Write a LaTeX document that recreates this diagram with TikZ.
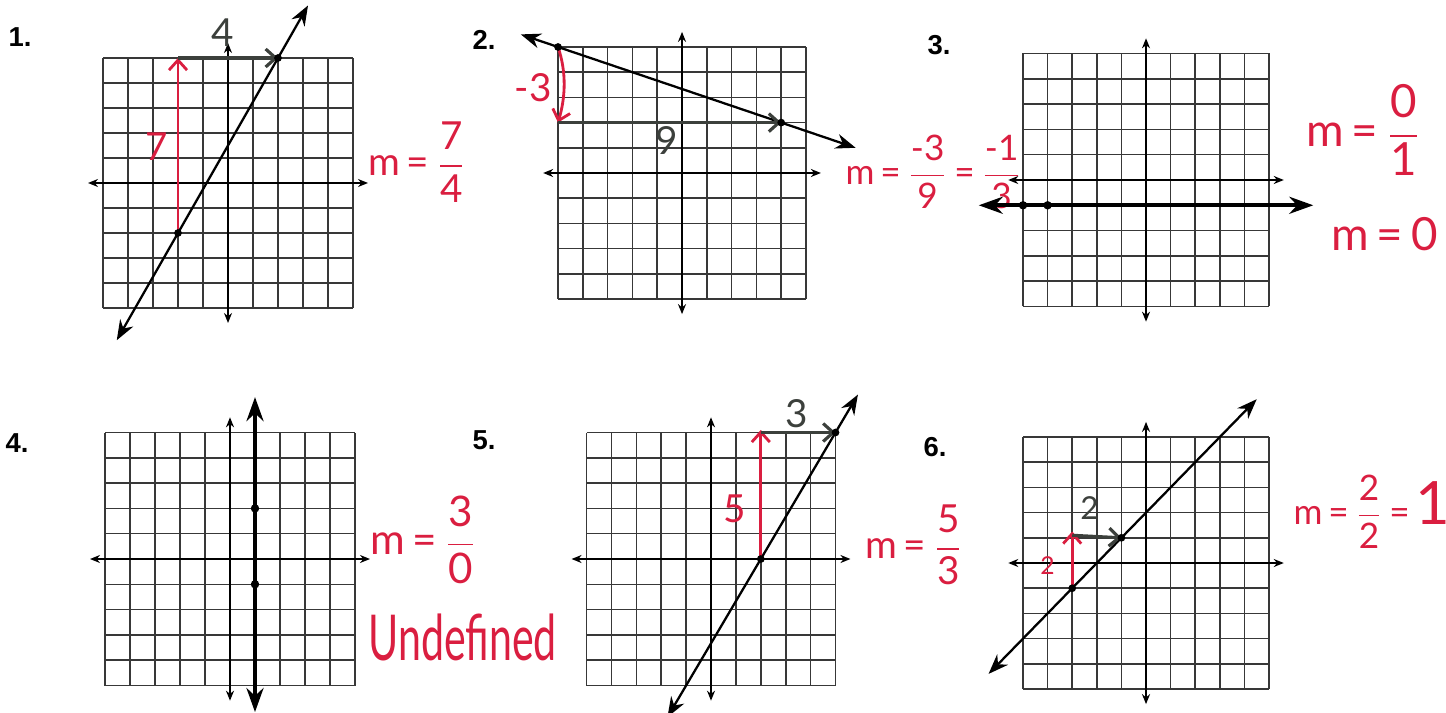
\documentclass[tikz,border=0pt]{standalone}
\usepackage{amsmath}
\usepackage{fontspec}
\setmainfont{Liberation Sans}
\newfontfamily\handfont{Lato}
\usetikzlibrary{arrows.meta}

\providecommand{\AxisLen}{5.6}
\definecolor{handred}{RGB}{218,30,64}
\definecolor{ink}{RGB}{60,64,60}

% 10 x 10 grid with both axes, in cell units
\newcommand{\SlopeGrid}{%
  \foreach \k in {-5,...,5}
  {
    \draw[gridline] (\k,-5) -- (\k,5);
    \draw[gridline] (-5,\k) -- (5,\k);
  }
  \draw[axis] (-\AxisLen,0) -- (\AxisLen,0);
  \draw[axis] (0,-\AxisLen) -- (0,\AxisLen);
}

\begin{document}
\begin{tikzpicture}[x=0.1mm, y=-0.1mm,
  gridline/.style={line width=0.45pt, black!78},
  axis/.style={line width=0.7pt, {Stealth[length=1mm,width=0.8mm]}-{Stealth[length=1mm,width=0.8mm]}},
  graphline/.style={line width=0.65pt, {Stealth[length=2mm,width=1.5mm]}-{Stealth[length=2mm,width=1.5mm]}},
  boldline/.style={line width=1.1pt, {Stealth[length=2.4mm,width=1.7mm]}-{Stealth[length=2.4mm,width=1.7mm]}},
  rise/.style={draw=handred, line width=0.8pt, -{Straight Barb[length=1mm,width=1.8mm]}},
  run/.style={draw=ink, line width=0.9pt, -{Straight Barb[length=1mm,width=1.8mm]}},
  hand/.style={inner sep=0pt, text=handred, font=\handfont\fontsize{11}{13}\selectfont},
  inkhand/.style={inner sep=0pt, text=ink, font=\handfont\fontsize{11}{13}\selectfont},
  qnum/.style={anchor=west, inner sep=0pt, font=\bfseries\fontsize{7.8}{9}\selectfont}]

\useasboundingbox (0,0) rectangle (1446,713);

% Question numbers
\foreach \n/\x/\y in {1/8/37, 2/472/40, 3/927/45, 4/5/443, 5/472/440, 6/923/447}
  \node[qnum] (q\n) at (\x,\y) {\n.};

% Graph 1: m = 7/4
\begin{scope}[shift={(228,183)}, x=2.5mm, y=2.5mm]
  \SlopeGrid
  \coordinate (g1lo) at (-4.45,-6.29);
  \coordinate (g1hi) at (3.2,7.1);
  \coordinate (g1a) at (-2,-2);
  \coordinate (g1t) at (-2,5);
  \coordinate (g1b) at (2,5);
  \draw[graphline] (g1lo) -- (g1hi);
  \draw[rise] (g1a) -- (g1t);
  \draw[run] (g1t) -- (g1b);
  \fill (g1a) circle (1.1pt) (g1b) circle (1.1pt);
  \node[inkhand] (g1run) at (-0.2,6.0) {4};
  \node[hand] (g1rise) at (-2.85,1.45) {7};
\end{scope}
\node[hand, anchor=west] (m1) at (368,162) {m\,=\,$\dfrac{\mbox{7}}{\mbox{4}}$};

% Graph 2: m = -3/9
\begin{scope}[shift={(682,173)}, x=2.48mm, y=2.52mm]
  \SlopeGrid
  \coordinate (g2lo) at (-6.5,5.5);
  \coordinate (g2hi) at (7,1);
  \coordinate (g2a) at (-5,5);
  \coordinate (g2t) at (-5,2);
  \coordinate (g2b) at (4,2);
  \draw[graphline] (g2lo) -- (g2hi);
  \draw[rise] (g2a) .. controls (-4.65,4) and (-4.7,3) .. (g2t);
  \draw[run] (g2t) -- (g2b);
  \fill (g2a) circle (1.1pt) (g2b) circle (1.1pt);
  \node[hand] (g2rise) at (-6.0,3.4) {-3};
  \node[inkhand] (g2run) at (-0.6,1.3) {9};
\end{scope}
\node[hand, anchor=west, font=\handfont\fontsize{10}{12}\selectfont] (m2) at (845,172)
  {m\,=\,$\dfrac{\mbox{-3}}{\mbox{9}}$\,=\,$\dfrac{\mbox{-1}}{\mbox{3}}$};

% Graph 3: horizontal line
\begin{scope}[shift={(1146,180)}, x=2.46mm, y=2.53mm]
  \SlopeGrid
  \coordinate (g3lo) at (-6.8,-1);
  \coordinate (g3hi) at (6.8,-1);
  \coordinate (g3a) at (-5,-1);
  \coordinate (g3b) at (-4,-1);
  \draw[boldline] (g3lo) -- (g3hi);
  \fill (g3a) circle (1.2pt) (g3b) circle (1.2pt);
\end{scope}
\node[hand, anchor=west, font=\handfont\fontsize{13}{15}\selectfont] (m3) at (1306,130)
  {m\,=\,$\dfrac{\mbox{0}}{\mbox{1}}$};
\node[hand, anchor=west, font=\handfont\fontsize{13}{15}\selectfont] (m3b) at (1331,234) {m\,=\,0};

% Graph 4: vertical line
\begin{scope}[shift={(230,559)}, x=2.5mm, y=2.53mm]
  \SlopeGrid
  \coordinate (g4lo) at (1,-6.05);
  \coordinate (g4hi) at (1,6.4);
  \coordinate (g4a) at (1,2);
  \coordinate (g4b) at (1,-1);
  \draw[boldline] (g4lo) -- (g4hi);
  \fill (g4a) circle (1.2pt) (g4b) circle (1.2pt);
\end{scope}
\node[hand, anchor=west, font=\handfont\fontsize{12}{14}\selectfont] (m4) at (370,540)
  {m\,=\,$\dfrac{\mbox{3}}{\mbox{0}}$};
\node[hand, anchor=west, xscale=0.65, font=\handfont\fontsize{18}{20}\selectfont] (u4) at (368,637) {Undefined};

% Graph 5: m = 5/3
\begin{scope}[shift={(711,559)}, x=2.49mm, y=2.53mm]
  \SlopeGrid
  \coordinate (g5lo) at (-1.75,-6.25);
  \coordinate (g5hi) at (5.9,6.5);
  \coordinate (g5a) at (2,0);
  \coordinate (g5t) at (2,5.1);
  \coordinate (g5c) at (2,5);
  \coordinate (g5b) at (5,5);
  \draw[graphline] (g5lo) -- (g5hi);
  \draw[rise] (g5a) -- (g5t);
  \draw[run] (g5c) -- (g5b);
  \fill (g5a) circle (1.1pt) (g5b) circle (1.1pt);
  \node[hand] (g5rise) at (0.96,2.0) {5};
  \node[inkhand] (g5run) at (3.45,5.75) {3};
\end{scope}
\node[hand, anchor=west] (m5) at (865,545) {m\,=\,$\dfrac{\mbox{5}}{\mbox{3}}$};

% Graph 6: m = 2/2
\begin{scope}[shift={(1146,563)}, x=2.46mm, y=2.52mm]
  \SlopeGrid
  \coordinate (g6lo) at (-6.4,-4.4);
  \coordinate (g6hi) at (4.5,6.5);
  \coordinate (g6a) at (-3,-1);
  \coordinate (g6t) at (-3,1.25);
  \coordinate (g6c) at (-3,1.1);
  \coordinate (g6b) at (-1,1);
  \draw[graphline] (g6lo) -- (g6hi);
  \draw[rise] (g6a) -- (g6t);
  \draw[run] (g6c) -- (g6b);
  \fill (g6a) circle (1.1pt) (g6b) circle (1.1pt);
  \node[hand, font=\handfont\fontsize{7}{8}\selectfont] (g6rise) at (-4.0,-0.1) {2};
  \node[inkhand, font=\handfont\fontsize{9}{10}\selectfont] (g6run) at (-2.3,2.2) {2};
\end{scope}
\node[hand, anchor=west, font=\handfont\fontsize{10}{12}\selectfont] (m6) at (1293,512)
  {m\,=\,$\dfrac{\mbox{2}}{\mbox{2}}$\,=\,{\fontsize{17}{17}\selectfont 1}};

\end{tikzpicture}
\end{document}
